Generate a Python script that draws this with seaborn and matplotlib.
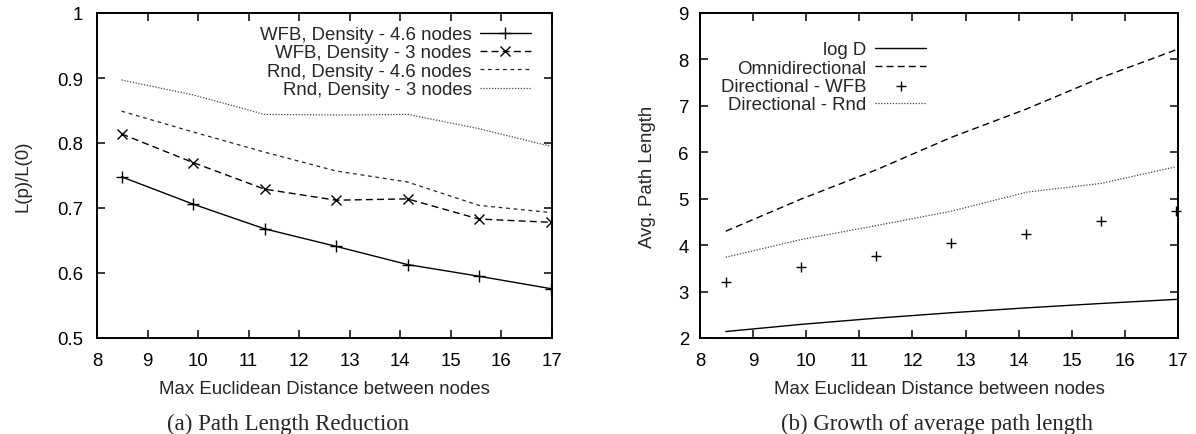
import matplotlib
matplotlib.use("Agg")
import matplotlib.pyplot as plt
import numpy as np
import pandas as pd
import seaborn as sns
from matplotlib.ticker import FuncFormatter, MultipleLocator

# Data
dist = [8.485, 9.899, 11.314, 12.728, 14.142, 15.556, 16.971]

# (a) path length reduction
wfb_46 = [0.748, 0.706, 0.668, 0.641, 0.613, 0.595, 0.576]
wfb_3 = [0.814, 0.770, 0.729, 0.712, 0.714, 0.683, 0.678]
rnd_46 = [0.849, 0.817, 0.786, 0.757, 0.740, 0.704, 0.693]
rnd_3 = [0.897, 0.874, 0.844, 0.843, 0.844, 0.822, 0.795]

# (b) growth of average path length
log_d = [2.139, 2.293, 2.426, 2.544, 2.649, 2.744, 2.832]
omni = [4.30, 4.99, 5.62, 6.32, 6.93, 7.61, 8.21]
dir_wfb = [3.21, 3.52, 3.76, 4.04, 4.25, 4.53, 4.73]
dir_rnd = [3.74, 4.12, 4.42, 4.73, 5.14, 5.33, 5.69]

FS = 13.4

sns.set_theme(style="ticks")
plt.rcParams["font.family"] = ["Liberation Sans", "DejaVu Sans"]
plt.rcParams["axes.linewidth"] = 1.4
plt.rcParams["xtick.direction"] = "in"
plt.rcParams["ytick.direction"] = "in"
plt.rcParams["xtick.top"] = True
plt.rcParams["ytick.right"] = True
plt.rcParams["xtick.major.size"] = 6
plt.rcParams["ytick.major.size"] = 6
plt.rcParams["xtick.major.width"] = 1.1
plt.rcParams["ytick.major.width"] = 1.1
plt.rcParams["xtick.labelsize"] = FS
plt.rcParams["ytick.labelsize"] = FS
plt.rcParams["axes.labelsize"] = FS
plt.rcParams["axes.edgecolor"] = "black"
plt.rcParams["xtick.color"] = "black"
plt.rcParams["ytick.color"] = "black"

W, H = 1196, 435
fig = plt.figure(figsize=(W / 100, H / 100), dpi=100)
ax1 = fig.add_axes([97 / W, 1 - 339 / H, 455 / W, 325 / H])
ax2 = fig.add_axes([700 / W, 1 - 339 / H, 478 / W, 325 / H])


def right_aligned_legend(ax, x, y):
    leg = ax.legend(loc="upper right", bbox_to_anchor=(x, y), frameon=False,
                    markerfirst=False, handlelength=2.75, handletextpad=0.45,
                    labelspacing=0.07, fontsize=FS, borderaxespad=0,
                    borderpad=0)
    # right-align the rows like gnuplot does
    for col in leg._legend_handle_box.get_children():
        col.align = "right"
    return leg


# (a)
sns.lineplot(x=dist, y=wfb_46, ax=ax1, color="black", lw=1.0, marker="+",
             markersize=9, markeredgewidth=1.0, markeredgecolor="black",
             label="WFB, Density - 4.6 nodes")
sns.lineplot(x=dist, y=wfb_3, ax=ax1, color="black", lw=1.0, marker="x",
             markersize=7, markeredgewidth=1.0, markeredgecolor="black",
             dashes=(5, 3), label="WFB, Density - 3 nodes")
sns.lineplot(x=dist, y=rnd_46, ax=ax1, color="#222222", lw=0.9,
             dashes=(3, 3), label="Rnd, Density - 4.6 nodes")
sns.lineplot(x=dist, y=rnd_3, ax=ax1, color="#444444", lw=0.9,
             dashes=(1, 1.3), label="Rnd, Density - 3 nodes")
ax1.set_xlim(8, 17)
ax1.set_ylim(0.5, 1.0)
ax1.xaxis.set_major_locator(MultipleLocator(1))
ax1.yaxis.set_major_locator(MultipleLocator(0.1))
ax1.yaxis.set_major_formatter(FuncFormatter(lambda v, p: f"{v:g}"))
ax1.set_xlabel("Max Euclidean Distance between nodes", labelpad=8)
ax1.set_ylabel("L(p)/L(0)", labelpad=18)
ax1.tick_params(axis="y", pad=10)
right_aligned_legend(ax1, 0.954, 0.96)

# (b)
sns.lineplot(x=dist, y=log_d, ax=ax2, color="black", lw=1.0, label="log D")
sns.lineplot(x=dist, y=omni, ax=ax2, color="black", lw=1.0, dashes=(5, 3),
             label="Omnidirectional")
sns.scatterplot(x=dist, y=dir_wfb, ax=ax2, color="black", marker="+", s=45,
                linewidth=1.0, clip_on=False, zorder=5,
                label="Directional - WFB")
sns.lineplot(x=dist, y=dir_rnd, ax=ax2, color="#444444", lw=0.9,
             dashes=(1, 1.3), label="Directional - Rnd")
ax2.set_xlim(8, 17)
ax2.set_ylim(2, 9)
ax2.xaxis.set_major_locator(MultipleLocator(1))
ax2.yaxis.set_major_locator(MultipleLocator(1))
ax2.set_xlabel("Max Euclidean Distance between nodes", labelpad=8)
ax2.set_ylabel("Avg. Path Length", labelpad=16)
ax2.tick_params(axis="y", pad=8)
right_aligned_legend(ax2, 0.473, 0.913)

for ax in (ax1, ax2):
    ax.tick_params(axis="x", pad=10)

# captions
serif = ["Liberation Serif", "DejaVu Serif"]
fig.text(288 / W, 1 - 424 / H, "(a) Path Length Reduction", ha="center",
         va="center", fontsize=16.5, family=serif)
fig.text(937 / W, 1 - 424 / H, "(b) Growth of average path length", ha="center",
         va="center", fontsize=16.5, family=serif)

fig.savefig("out.png", dpi=100)
